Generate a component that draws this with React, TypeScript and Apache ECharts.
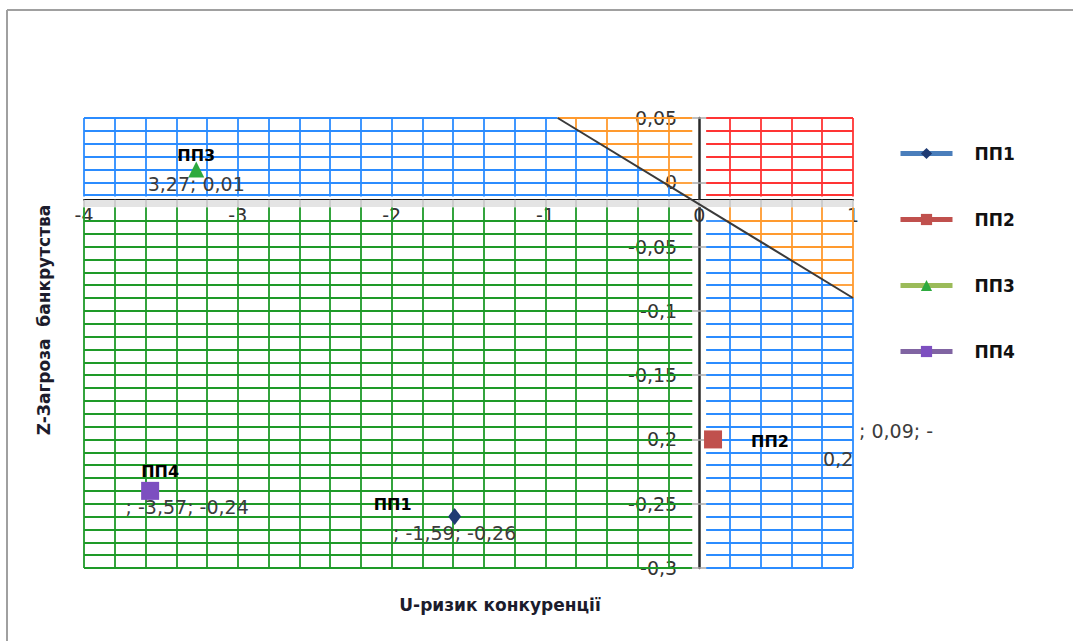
import React, { useEffect, useRef } from "react";
import * as echarts from "echarts";

// ---- data ----
const seriesNames = ["ПП1", "ПП2", "ПП3", "ПП4"];
const uValues = [-1.59, 0.09, -3.27, -3.57]; // U - ризик конкуренції
const zValues = [-0.26, -0.2, 0.01, -0.24]; // Z - загроза банкрутства
const valueLabels = ["; -1,59; -0,26", "; 0,09; -\n0,2", "3,27; 0,01", "; -3,57; -0,24"];
const boundaryU = [-0.92, 1];
const boundaryZ = [0.05, -0.09];
const xTitle = "U-ризик конкуренції";
const yTitle = "Z-Загроза  банкрутства";

// ---- axis ranges ----
const X_MIN = -4;
const X_MAX = 1;
const X_STEP = 1;
const Y_MIN = -0.3;
const Y_MAX = 0.05;
const Y_STEP = 0.05;

// ---- layout / style ----
const GRID = { left: 84, top: 118, width: 769, height: 450 };
const AXIS_Z = -0.0135; // where the horizontal axis line is drawn
const TOP_REGION_BOTTOM = -0.011;
const BOTTOM_REGION_TOP = -0.0195;
const GAP_U = 0.045;
const BLUE = "#2b8cff";
const GREEN = "#1e9a28";
const ORANGE = "#ff9a2e";
const RED = "#ff3434";
const FONT = "DejaVu Sans";

const seriesStyles = [
  { symbol: "diamond", size: [13, 17], color: "#1f3b73", line: "#4a7ebb", nameOffset: [-62, -12], valueOffset: [0, 16], align: "center" },
  { symbol: "rect", size: 18, color: "#c0504d", line: "#c0504d", nameOffset: [57, 2], valueOffset: [110, 6], align: "left" },
  { symbol: "triangle", size: 16, color: "#2eaa3f", line: "#9bbb59", nameOffset: [0, -14], valueOffset: [0, 15], align: "center" },
  { symbol: "rect", size: 18, color: "#7d4fc0", line: "#8064a2", nameOffset: [10, -19], valueOffset: [37, 16], align: "center" },
];

const fmt = (v: number) => String(Math.round(v * 100) / 100).replace(".", ",");

function diagZ(u: number) {
  return boundaryZ[0] + ((boundaryZ[1] - boundaryZ[0]) * (u - boundaryU[0])) / (boundaryU[1] - boundaryU[0]);
}
function diagU(z: number) {
  return boundaryU[0] + ((boundaryU[1] - boundaryU[0]) * (z - boundaryZ[0])) / (boundaryZ[1] - boundaryZ[0]);
}

type Seg = { coords: number[][]; lineStyle: { color: string; width: number } };

function buildGrid(): Seg[] {
  const segs: Seg[] = [];
  const W = 1.8;
  const leftV: number[] = [];
  for (let i = 0; i < 20; i++) leftV.push((-20 + i) / 5);
  const rightV: number[] = [];
  for (let i = 1; i <= 5; i++) rightV.push(i / 5);
  const topH: number[] = [];
  for (let k = -5; k <= 1; k++) topH.push(-k / 100);
  const botH: number[] = [];
  for (let k = 3; k <= 30; k++) botH.push(-k / 100);

  const regions = [
    { u0: X_MIN, u1: -GAP_U, z0: TOP_REGION_BOTTOM, z1: Y_MAX, below: BLUE, above: ORANGE, v: leftV, h: topH },
    { u0: GAP_U, u1: X_MAX, z0: TOP_REGION_BOTTOM, z1: Y_MAX, below: RED, above: RED, v: rightV, h: topH },
    { u0: X_MIN, u1: -GAP_U, z0: Y_MIN, z1: BOTTOM_REGION_TOP, below: GREEN, above: GREEN, v: leftV, h: botH },
    { u0: GAP_U, u1: X_MAX, z0: Y_MIN, z1: BOTTOM_REGION_TOP, below: BLUE, above: ORANGE, v: rightV, h: botH },
  ];
  const add = (a: number[], b: number[], color: string, width = W) =>
    segs.push({ coords: [a, b], lineStyle: { color, width } });

  for (const r of regions) {
    for (const z of r.h) {
      const uc = diagU(z);
      if (uc > r.u0) add([r.u0, z], [Math.min(r.u1, uc), z], r.below);
      if (uc < r.u1) add([Math.max(r.u0, uc), z], [r.u1, z], r.above);
    }
    for (const u of r.v) {
      const d = diagZ(u);
      if (d > r.z0) add([u, r.z0], [u, Math.min(r.z1, d)], r.below);
      if (d < r.z1) add([u, Math.max(r.z0, d)], [u, r.z1], r.above);
    }
  }
  // gray band under the horizontal axis
  add([X_MIN, (AXIS_Z + BOTTOM_REGION_TOP) / 2], [X_MAX, (AXIS_Z + BOTTOM_REGION_TOP) / 2], "#e4e4e4", 7);
  for (const u of [...leftV, 0, ...rightV]) add([u, AXIS_Z], [u, BOTTOM_REGION_TOP], "#c4c4c4", 1.5);
  // ticks through the gap around the vertical axis
  for (let k = 1; k >= -6; k--) add([-GAP_U, k * Y_STEP], [GAP_U, k * Y_STEP], "#a8a8a8", 1.5);
  return segs;
}

export default function App() {
  const ref = useRef<HTMLDivElement>(null);
  useEffect(() => {
    const chart = echarts.init(ref.current!, null, { renderer: "svg" });
    const xAxisOffset = -((AXIS_Z - Y_MIN) / (Y_MAX - Y_MIN)) * GRID.height;
    const yAxisOffset = -((0 - X_MIN) / (X_MAX - X_MIN)) * GRID.width;

    const pointSeries = seriesNames.map((name, i) => {
      const st = seriesStyles[i];
      const lines = valueLabels[i].split("\n");
      const valueLabel: any = {
        show: true,
        position: "inside",
        offset: st.valueOffset,
        align: st.align,
        verticalAlign: "middle",
        fontFamily: FONT,
        fontSize: 19,
        color: "#3c3c3c",
      };
      if (lines.length > 1) {
        valueLabel.formatter = `{a|${lines[0]}}\n{b|${lines[1]}}`;
        valueLabel.rich = {
          a: { fontFamily: FONT, fontSize: 19, color: "#3c3c3c", padding: [0, 0, 0, 36], lineHeight: 28 },
          b: { fontFamily: FONT, fontSize: 19, color: "#3c3c3c", lineHeight: 28 },
        };
      } else {
        valueLabel.formatter = lines[0];
      }
      return {
        type: "line",
        name,
        data: [[uValues[i], zValues[i]]],
        symbol: st.symbol,
        symbolSize: st.size,
        itemStyle: { color: st.color },
        lineStyle: { color: st.line, width: 4 },
        z: 5,
        silent: true,
        label: {
          show: true,
          formatter: name,
          position: "inside",
          offset: st.nameOffset,
          fontFamily: FONT,
          fontWeight: "bold",
          fontSize: 16,
          color: "#000",
        },
        markPoint: {
          symbol: "circle",
          symbolSize: 1,
          silent: true,
          itemStyle: { color: "rgba(0,0,0,0)" },
          data: [{ coord: [uValues[i], zValues[i]], label: valueLabel }],
        },
      };
    });

    chart.setOption({
      animation: false,
      backgroundColor: "#ffffff",
      grid: { left: GRID.left, top: GRID.top, width: GRID.width, height: GRID.height, containLabel: false },
      xAxis: {
        type: "value",
        min: X_MIN,
        max: X_MAX,
        interval: X_STEP,
        position: "bottom",
        offset: xAxisOffset,
        axisLine: { onZero: false, lineStyle: { color: "#111", width: 2 } },
        axisTick: { show: false },
        splitLine: { show: false },
        axisLabel: { margin: 6, fontFamily: FONT, fontSize: 19, color: "#333", formatter: fmt },
      },
      yAxis: {
        type: "value",
        min: Y_MIN,
        max: Y_MAX,
        interval: Y_STEP,
        position: "left",
        offset: yAxisOffset,
        axisLine: { onZero: false, lineStyle: { color: "#2a2a2a", width: 2.5 } },
        axisTick: { show: false },
        splitLine: { show: false },
        axisLabel: { margin: 22, fontFamily: FONT, fontSize: 19, color: "#333", formatter: fmt },
      },
      legend: {
        data: seriesNames,
        orient: "vertical",
        left: 893,
        top: 140,
        itemWidth: 52,
        itemHeight: 14,
        itemGap: 49,
        selectedMode: false,
        lineStyle: { width: 5 },
        textStyle: { fontFamily: FONT, fontWeight: "bold", fontSize: 17, color: "#111", padding: [0, 0, 0, 17] },
      },
      graphic: [
        { type: "line", shape: { x1: 7, y1: 10, x2: 1073, y2: 10 }, style: { stroke: "#a0a0a0", lineWidth: 2 } },
        { type: "line", shape: { x1: 7, y1: 10, x2: 7, y2: 641 }, style: { stroke: "#a0a0a0", lineWidth: 2 } },
        {
          type: "text",
          x: 500,
          y: 605,
          style: { text: xTitle, font: `bold 17px "${FONT}"`, fill: "#1c1c2c", align: "center", verticalAlign: "middle" },
        },
        {
          type: "text",
          x: 44,
          y: 320,
          rotation: Math.PI / 2,
          style: { text: yTitle, font: `bold 17px "${FONT}"`, fill: "#1c1c2c", align: "center", verticalAlign: "middle" },
        },
      ],
      series: [
        {
          type: "lines",
          coordinateSystem: "cartesian2d",
          silent: true,
          z: 1,
          lineStyle: { opacity: 1, width: 1.8 },
          data: buildGrid(),
        },
        {
          type: "lines",
          coordinateSystem: "cartesian2d",
          silent: true,
          z: 2,
          lineStyle: { opacity: 1, width: 2, color: "#3a3a3a" },
          data: [{ coords: [[boundaryU[0], boundaryZ[0]], [boundaryU[1], boundaryZ[1]]] }],
        },
        ...pointSeries,
      ],
    });
    return () => chart.dispose();
  }, []);
  return (
    <div
      ref={ref}
      style={{ position: "absolute", left: 0, top: 0, width: 1073, height: 641, background: "#fff" }}
    />
  );
}
